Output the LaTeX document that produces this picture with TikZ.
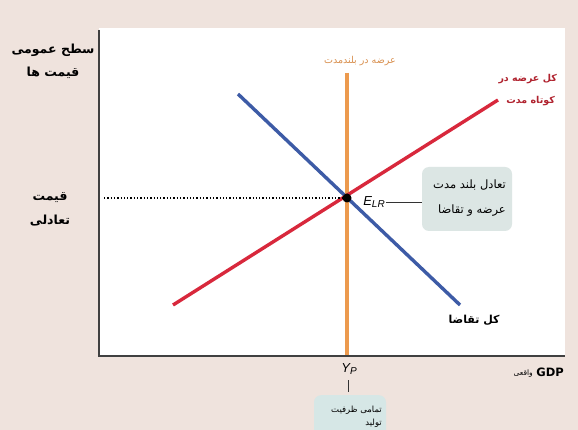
\documentclass[tikz,border=0pt]{standalone}
\usepackage{fontspec}
\TeXXeTstate=1
\newfontfamily\arabicfont[Script=Arabic]{DejaVu Sans}
\newfontfamily\latinsans{Liberation Sans}
\definecolor{bgc}{HTML}{EFE3DD}
\definecolor{lrc}{HTML}{EC9A4E}
\definecolor{src}{HTML}{D8283C}
\definecolor{adc}{HTML}{3D5BA6}
\definecolor{boxc}{HTML}{DCE6E4}
\definecolor{boxd}{HTML}{D6E7E6}
\definecolor{srtext}{HTML}{B0222E}
\definecolor{lrtext}{HTML}{D9904F}
\tikzset{
  axisline/.style={draw=black!75, line width=1.3pt},
  curve/.style={line width=3.4pt},
  fa/.style={font=\arabicfont\bfseries\fontsize{12.5}{14}\selectfont, inner sep=1pt, align=center},
  fabox/.style={font=\arabicfont\fontsize{11.5}{13}\selectfont, inner sep=1pt, anchor=east},
  fasmall/.style={font=\arabicfont\fontsize{8.5}{10}\selectfont, inner sep=1pt},
  notebox/.style={fill=boxc, rounded corners=7pt},
}
\begin{document}
\begin{tikzpicture}[x=1pt,y=-1pt]
\clip (0,0) rectangle (578,430);
\fill[bgc] (0,0) rectangle (578,430);
\fill[white] (99,28) rectangle (565,356);
% axes
\coordinate (yaxtop) at (99,30);
\coordinate (origin) at (99,356);
\coordinate (xaxend) at (565,356);
\draw[axisline] (yaxtop) -- (origin) -- (xaxend);
% curves
\coordinate (lrtop) at (347,73);
\coordinate (lrbot) at (347,355);
\coordinate (as1) at (173,305);
\coordinate (as2) at (498,100);
\coordinate (ad1) at (238,94);
\coordinate (ad2) at (460,305);
\draw[curve, lrc, line width=4.8pt] (lrtop) -- (lrbot);
\draw[curve, adc] (ad1) -- (ad2);
\draw[curve, src] (as1) -- (as2);
% equilibrium
\coordinate (dotstart) at (104,198);
\node[circle, fill=black, inner sep=0pt, minimum size=9pt] (elr) at (347,198) {};
\draw[black, dotted, line width=1.3pt] (dotstart) -- (elr);
\node[font=\latinsans\itshape\fontsize{13}{15}\selectfont, inner sep=1pt] (elrlabel) at (374,202) {E\raisebox{-0.35ex}{\fontsize{10}{11}\selectfont LR}};
\node[notebox, minimum width=90pt, minimum height=64pt] (eqbox) at (467,199) {};
\node[fabox] (eqt1) at (507,185) {\beginR تعادل بلند مدت\endR};
\node[fabox] (eqt2) at (507,211) {\beginR عرضه و تقاضا\endR};
\draw[black!80, line width=0.8pt] (elrlabel.east) -- (elrlabel.east -| eqbox.west);
% curve labels
\node[fasmall, text=lrtext, font=\arabicfont\fontsize{9.5}{11}\selectfont] (lrlabel) at (360,61) {\beginR عرضه در بلندمدت\endR};
\node[fasmall, text=srtext, font=\arabicfont\bfseries\fontsize{9.5}{11}\selectfont, anchor=east] (srl1) at (558,79) {\beginR کل عرضه در\endR};
\node[fasmall, text=srtext, font=\arabicfont\bfseries\fontsize{9.5}{11}\selectfont, anchor=east] (srl2) at (556,101) {\beginR کوتاه مدت\endR};
\node[fa, font=\arabicfont\bfseries\fontsize{11}{13}\selectfont] (adl) at (474,320) {\beginR کل تقاضا\endR};
% axis labels
\node[fa] (yl1) at (53,50) {\beginR سطح عمومی\endR};
\node[fa] (yl2) at (53,73) {\beginR قیمت ها\endR};
\node[fa] (pl1) at (50,198) {\beginR قیمت\endR};
\node[fa] (pl2) at (50,221) {\beginR تعادلی\endR};
\node[font=\arabicfont\bfseries\fontsize{11.5}{13}\selectfont, inner sep=1pt, anchor=east] (gdp) at (565,372) {GDP};
\node[fasmall, font=\arabicfont\fontsize{7.5}{8}\selectfont, anchor=east] (gdpw) at (534,374) {\beginR واقعی\endR};
% potential output
\node[font=\latinsans\itshape\fontsize{13}{15}\selectfont, inner sep=1pt] (yp) at (349,369) {Y\raisebox{-0.35ex}{\fontsize{10}{11}\selectfont P}};
\coordinate (tick1) at (348,380);
\coordinate (tick2) at (348,392);
\draw[black!80, line width=1pt] (tick1) -- (tick2);
\node[notebox, fill=boxd, minimum width=72pt, minimum height=50pt, anchor=north] (ypbox) at (350,395) {};
\node[fasmall, anchor=east] (ypt1) at (383,410) {\beginR تمامی ظرفیت\endR};
\node[fasmall, anchor=east] (ypt2) at (383,423) {\beginR تولید\endR};
\end{tikzpicture}
\end{document}
